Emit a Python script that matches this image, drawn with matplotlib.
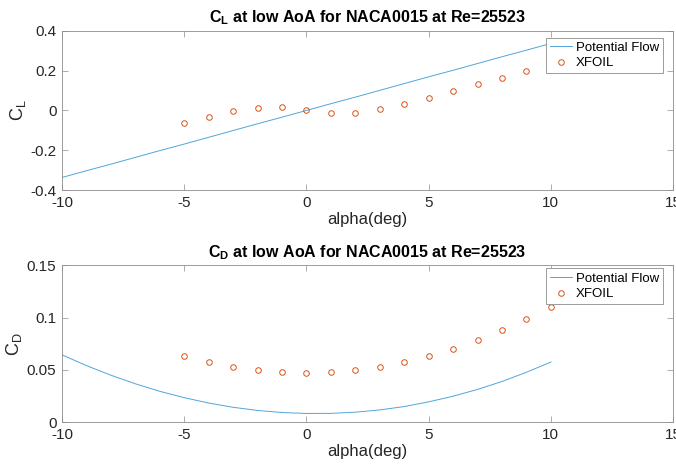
import numpy as np
import matplotlib
matplotlib.use("Agg")
from matplotlib import pyplot as plt
from matplotlib.ticker import FuncFormatter

plt.rcParams['font.family'] = ['Liberation Sans', 'DejaVu Sans']
plt.rcParams['mathtext.fontset'] = 'custom'
plt.rcParams['mathtext.rm'] = 'Liberation Sans'
plt.rcParams['mathtext.it'] = 'Liberation Sans'
plt.rcParams['mathtext.bf'] = 'Liberation Sans:bold'
plt.rcParams['mathtext.default'] = 'regular'
plt.rcParams['axes.unicode_minus'] = False

# potential flow (thin airfoil) curves
alpha_pf = [-10, -9, -8, -7, -6, -5, -4, -3, -2, -1, 0,
            1, 2, 3, 4, 5, 6, 7, 8, 9, 10]
cl_pf = [-0.337, -0.303, -0.270, -0.236, -0.202, -0.169, -0.135, -0.101, -0.067, -0.034, 0.0,
         0.034, 0.067, 0.101, 0.135, 0.169, 0.202, 0.236, 0.270, 0.303, 0.337]
cd_pf = [0.0644, 0.0541, 0.0449, 0.0367, 0.0295, 0.0234, 0.0183, 0.0142, 0.0112, 0.0092, 0.0083,
         0.0084, 0.0095, 0.0117, 0.0149, 0.0194, 0.0248, 0.0313, 0.0389, 0.0477, 0.0575]

# XFOIL results
alpha_xf = [-5, -4, -3, -2, -1, 0, 1, 2, 3, 4, 5, 6, 7, 8, 9, 10]
cl_xf = [-0.062, -0.032, -0.003, 0.013, 0.015, 0.0, -0.013, -0.012,
         0.005, 0.033, 0.065, 0.098, 0.132, 0.165, 0.198, 0.233]
cd_xf = [0.0632, 0.0572, 0.0528, 0.0497, 0.0478, 0.0472, 0.0478, 0.0497,
         0.0528, 0.0572, 0.0632, 0.0701, 0.0789, 0.0884, 0.0991, 0.1104]

blue = '#4FA6DC'
orange = '#D95319'
edge = '#8c8c8c'
txt = '#262626'

fig = plt.figure(figsize=(6.76, 4.68), dpi=100)
ax1 = fig.add_axes([0.0917, 0.594, 0.904, 0.340])
ax2 = fig.add_axes([0.0917, 0.098, 0.904, 0.335])

fmt = FuncFormatter(lambda v, p: '%g' % round(v, 4))

panels = [
    (ax1, cl_pf, cl_xf, r'$\mathbf{C_L}$ at low AoA for NACA0015 at Re=25523', r'$C_L$',
     (-0.4, 0.4), np.arange(-0.4, 0.41, 0.2), (0.984, 0.958)),
    (ax2, cd_pf, cd_xf, r'$\mathbf{C_D}$ at low AoA for NACA0015 at Re=25523', r'$C_D$',
     (0, 0.15), np.arange(0, 0.151, 0.05), (0.984, 0.98)),
]

for ax, pf, xf, title, ylab, ylim, yt, anchor in panels:
    ax.plot(alpha_pf, pf, color=blue, lw=0.7, label='Potential Flow')
    ax.plot(alpha_xf, xf, 'o', mfc='none', mec=orange, ms=4, mew=0.7, label='XFOIL')
    ax.set_xlim(-10, 15)
    ax.set_ylim(*ylim)
    ax.set_xticks([-10, -5, 0, 5, 10, 15])
    ax.set_yticks(yt)
    ax.yaxis.set_major_formatter(fmt)
    ax.tick_params(direction='in', top=True, right=True, labelsize=11, length=4,
                   width=0.5, pad=4, color=edge, labelcolor=txt)
    for s in ax.spines.values():
        s.set_linewidth(0.6)
        s.set_color(edge)
    ax.set_title(title, fontsize=11.5, fontweight='bold', pad=6)
    ax.set_xlabel('alpha(deg)', fontsize=12, labelpad=2, color=txt)
    ax.set_ylabel(ylab, fontsize=13, labelpad=2, color=txt)
    leg = ax.legend(loc='upper right', bbox_to_anchor=anchor, fontsize=9.5, fancybox=False,
                    framealpha=1, borderaxespad=0, handlelength=1.7, handletextpad=0.3,
                    borderpad=0.3, labelspacing=0.25)
    leg.get_frame().set_edgecolor(edge)
    leg.get_frame().set_linewidth(0.6)

fig.savefig('out.png', dpi=100)
